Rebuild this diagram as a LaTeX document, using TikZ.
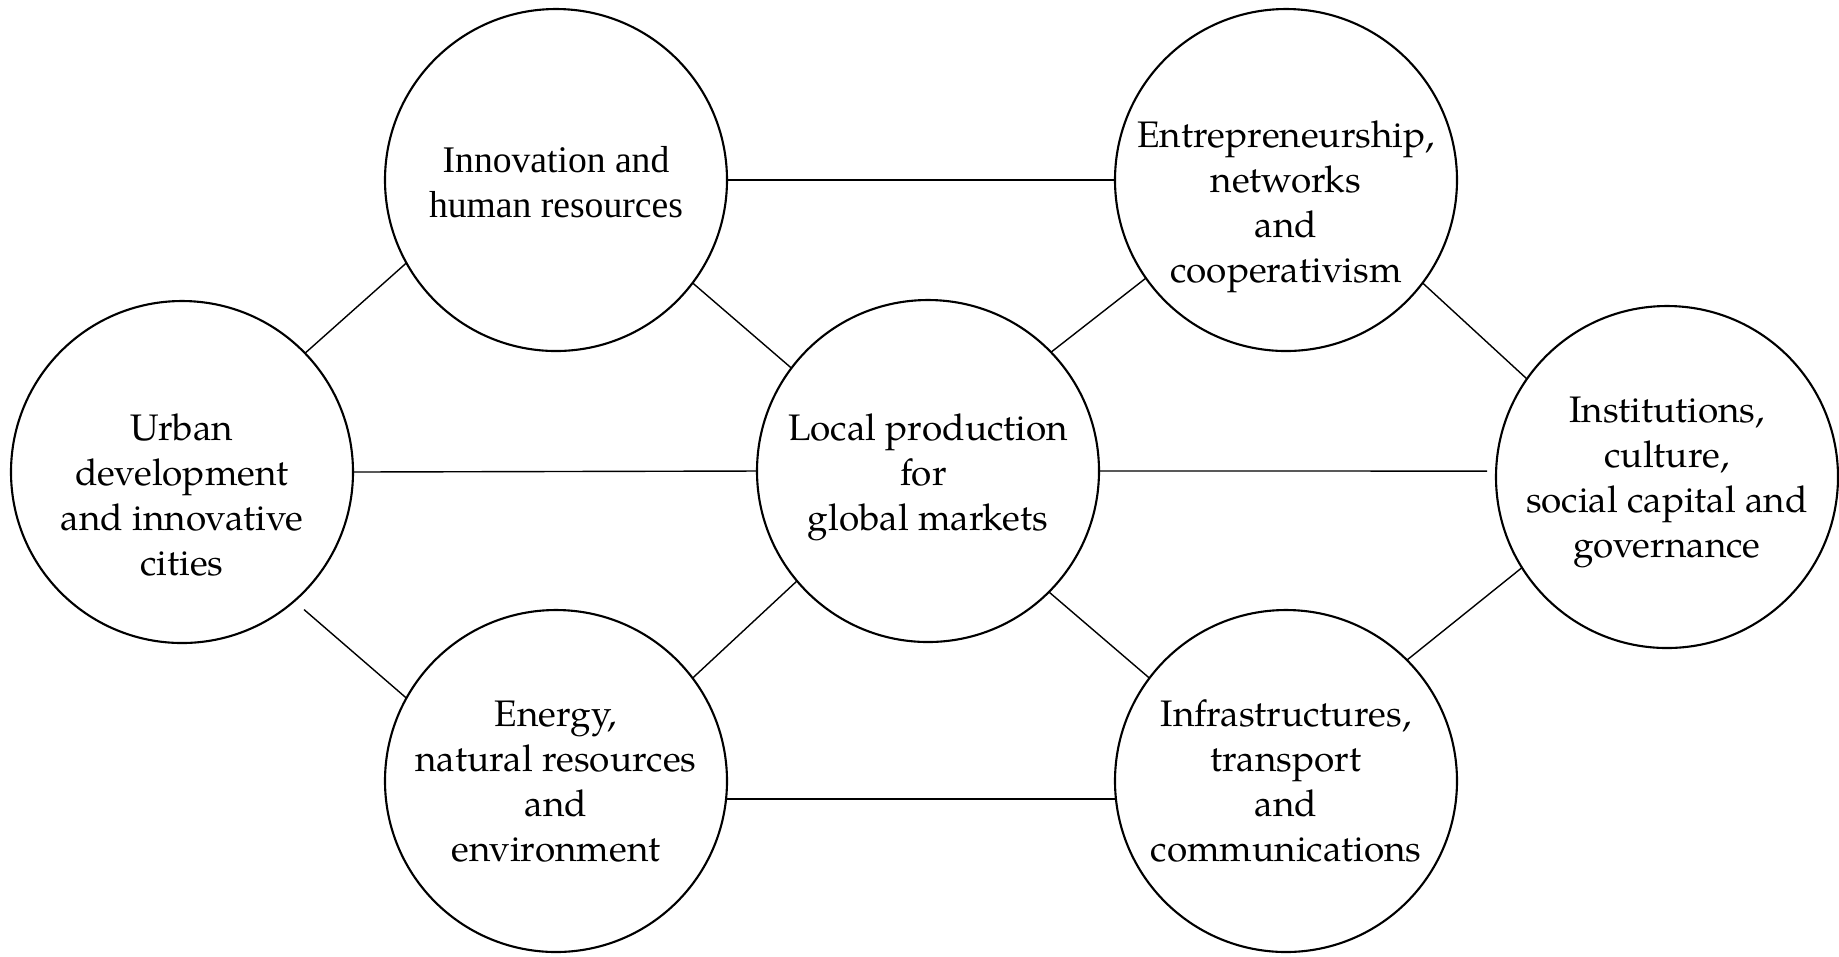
\documentclass[tikz,border=0pt]{standalone}
\usepackage{fontspec}
\setmainfont{texgyrepagella-regular.otf}
\newfontfamily\timesfam{Liberation Serif}
\usepackage{tikz}
\usetikzlibrary{positioning}
\tikzset {
    x=0.1mm, y=-0.1mm,
    line width=0.6pt,
    hub/.style={circle, draw, line width=0.6pt, minimum size=34.2mm, inner sep=0pt, outer sep=0pt},
    lbl/.style={align=center, inner sep=0pt, font=\fontsize{10.5}{12.8}\selectfont}
}
\begin{document}
\begin{tikzpicture}
    \useasboundingbox (0,0) rectangle (1839,956);

    \node[hub] (urb) at (182,472) {};
    \node[hub] (inn) at (556,180) {};
    \node[hub] (ene) at (556,781) {};
    \node[hub] (loc) at (928,471) {};
    \node[hub] (ent) at (1286,180) {};
    \node[hub] (inf) at (1286,781) {};
    \node[hub] (ins) at (1667,477) {};

    \node[lbl] (urbtxt) at (182,495) {Urban\\development\\and innovative\\cities};
    \node[lbl, font=\timesfam\fontsize{10.7}{12.8}\selectfont] (inntxt) at (556,182) {Innovation and\\human resources};
    \node[lbl] (enetxt) at (556,782) {Energy,\\natural resources\\and\ \ \\environment};
    \node[lbl] (loctxt) at (928,477) {Local production\\for\ \ \ \\global markets};
    \node[lbl] (enttxt) at (1286,207) {Entrepreneurship,\\networks\\and\\cooperativism};
    \node[lbl] (inftxt) at (1286,781) {Infrastructures,\\transport\\and\\communications};
    \node[lbl] (instxt) at (1667,482) {Institutions,\\culture,\\social capital and\\governance};

    \draw
    (urb.44) edge (inn.209)
    (urb.-49) edge[shorten <=1.3mm] (ene.151)
    (urb.0) edge (loc.180)
    (inn.323) edge (loc.143)
    (ene.37) edge (loc.220)
    (inn.0) edge (ent.180)
    (ene.-6) edge (inf.186)
    (loc.44) edge (ent.215)
    (loc.315) edge (inf.143)
    (loc.0) edge[shorten >=0.9mm] (ins.178)
    (ent.323) edge (ins.145)
    (inf.45) edge (ins.212);
\end{tikzpicture}
\end{document}
